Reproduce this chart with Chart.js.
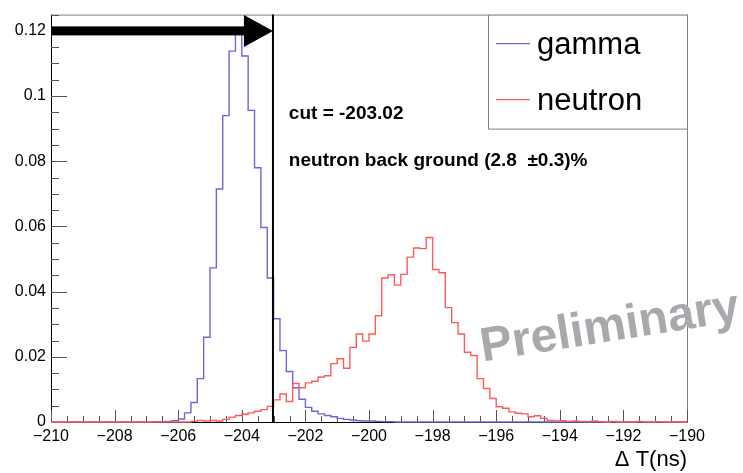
<!DOCTYPE html>
<html>
<head>
<meta charset="utf-8">
<title>Delta T gamma / neutron</title>
<script src="https://cdn.jsdelivr.net/npm/chart.js"></script>
<style>
  html, body { margin: 0; padding: 0; background: #fff; }
  canvas { display: block; }
</style>
</head>
<body>
<canvas id="dtChart" width="743" height="473"></canvas>
<script>
// binning of the Delta T histograms (ns)
const xMin = -210, xMax = -190, binWidth = 0.2;
const yMax = 0.125;
const xLabelStep = 2, yLabelStep = 0.02;
const cutValue = -203.02;

// 100 bins each
const gammaCounts = [
  0, 0, 0, 0, 0, 0, 0, 0, 0, 0,
  0, 0, 0, 0, 0, 0, 0.0001, 0.0001, 0.0002, 0.0004,
  0.0009, 0.0028, 0.006, 0.0133, 0.026, 0.0473, 0.0715, 0.094, 0.1138, 0.121,
  0.1123, 0.0956, 0.078, 0.0597, 0.0442, 0.0317, 0.0219, 0.0155, 0.0105, 0.007,
  0.0045, 0.0033, 0.0025, 0.002, 0.0016, 0.0011, 0.0008, 0.0006, 0.0004, 0.0003,
  0.0003, 0.0002, 0.0001, 0.0001, 0, 0, 0, 0, 0, 0,
  0, 0, 0, 0, 0, 0, 0, 0, 0, 0,
  0, 0, 0, 0, 0, 0, 0, 0, 0, 0,
  0, 0, 0, 0, 0, 0, 0, 0, 0, 0,
  0, 0, 0, 0, 0, 0, 0, 0, 0, 0
];
const neutronCounts = [
  0, 0, 0, 0, 0, 0, 0, 0, 0, 0,
  0, 0, 0, 0, 0, 0, 0, 0, 0, 0,
  0, 0, 0.0002, 0.0005, 0.0003, 0.0005, 0.0003, 0.0008, 0.0015, 0.002,
  0.0024, 0.0028, 0.0033, 0.0038, 0.0048, 0.0068, 0.0086, 0.0063, 0.0118, 0.0105,
  0.012, 0.0125, 0.0138, 0.0142, 0.0179, 0.0194, 0.0165, 0.0229, 0.027, 0.0248,
  0.027, 0.0326, 0.0442, 0.0452, 0.042, 0.0453, 0.0506, 0.0534, 0.0532, 0.0566,
  0.0468, 0.0458, 0.0351, 0.0305, 0.027, 0.0214, 0.0204, 0.0133, 0.0103, 0.0072,
  0.0047, 0.0042, 0.0031, 0.0027, 0.0025, 0.0016, 0.0019, 0.0011, 0.0005, 0.0003,
  0.0004, 0.0002, 0.0003, 0.0002, 0.0001, 0.0003, 0.0001, 0, 0.0002, 0,
  0, 0, 0.0002, 0, 0, 0.0001, 0, 0, 0, 0
];

const seriesNames = ['gamma', 'neutron'];
const seriesColors = ['#6a6ad2', '#ff5a5a'];
const cutText = 'cut = -203.02';
const bgText = 'neutron back ground (2.8  \u00b10.3)%';
const watermark = 'Preliminary';

// step points at the bin low edges, closed at the upper edge
function histPoints(counts) {
  const pts = counts.map((v, i) => ({ x: xMin + i * binWidth, y: v }));
  pts.push({ x: xMax, y: counts[counts.length - 1] });
  return pts;
}

const FONT = "'Liberation Sans', Arial, sans-serif";

const rootStyle = {
  id: 'rootStyle',
  beforeDatasetsDraw(chart) {
    const { ctx, chartArea: a, scales: { x, y } } = chart;
    ctx.save();
    ctx.lineWidth = 1;
    ctx.strokeStyle = '#808080';
    ctx.strokeRect(a.left + 0.5, a.top + 0.5, a.right - a.left, a.bottom - a.top);
    ctx.strokeStyle = '#000';
    ctx.beginPath();
    ctx.moveTo(a.left + 0.5, a.top);
    ctx.lineTo(a.left + 0.5, a.bottom + 0.5);
    ctx.lineTo(a.right, a.bottom + 0.5);
    ctx.stroke();
    // ticks pointing into the frame
    ctx.strokeStyle = '#555';
    ctx.beginPath();
    x.ticks.forEach(t => {
      const px = Math.round(x.getPixelForValue(t.value)) + 0.5;
      const len = t.label ? 12 : 6;
      ctx.moveTo(px, a.bottom);
      ctx.lineTo(px, a.bottom - len);
    });
    y.ticks.forEach(t => {
      const py = Math.round(y.getPixelForValue(t.value)) + 0.5;
      const len = t.label ? 16 : 8;
      ctx.moveTo(a.left, py);
      ctx.lineTo(a.left + len, py);
    });
    ctx.stroke();
    ctx.restore();
  },
  afterDatasetsDraw(chart) {
    const { ctx, chartArea: a, scales: { x, y } } = chart;
    const cx = x.getPixelForValue(cutValue);
    ctx.save();

    // cut line
    ctx.strokeStyle = '#000';
    ctx.lineWidth = 2;
    ctx.beginPath();
    ctx.moveTo(cx, y.getPixelForValue(0));
    ctx.lineTo(cx, y.getPixelForValue(yMax));
    ctx.stroke();

    // arrow towards the cut
    const ay = y.getPixelForValue(0.12);
    const headLen = 29, headHalf = 16, shaft = 9;
    ctx.fillStyle = '#000';
    ctx.fillRect(a.left, ay - shaft / 2, cx - headLen - a.left + 1, shaft);
    ctx.beginPath();
    ctx.moveTo(cx, ay);
    ctx.lineTo(cx - headLen, ay - headHalf);
    ctx.lineTo(cx - headLen, ay + headHalf);
    ctx.closePath();
    ctx.fill();

    // text
    ctx.fillStyle = '#000';
    ctx.textAlign = 'left';
    ctx.textBaseline = 'alphabetic';
    ctx.font = 'bold 19px ' + FONT;
    ctx.fillText(cutText, x.getPixelForValue(-202.52), y.getPixelForValue(0.0931));
    ctx.fillText(bgText, x.getPixelForValue(-202.52), y.getPixelForValue(0.0785));

    // legend
    const lw = 199, lh = 114;
    const lx = a.right - lw, ly = a.top;
    ctx.fillStyle = '#fff';
    ctx.fillRect(lx, ly, lw, lh);
    ctx.strokeStyle = '#808080';
    ctx.lineWidth = 1;
    ctx.strokeRect(lx + 0.5, ly + 0.5, lw, lh);
    ctx.font = '31px ' + FONT;
    ctx.textBaseline = 'middle';
    chart.data.datasets.forEach((ds, i) => {
      const ey = ly + 29 + i * 56;
      ctx.strokeStyle = ds.borderColor;
      ctx.lineWidth = 1.4;
      ctx.beginPath();
      ctx.moveTo(lx + 8, ey);
      ctx.lineTo(lx + 42, ey);
      ctx.stroke();
      ctx.fillStyle = '#000';
      ctx.fillText(ds.label, lx + 49, ey + 2);
    });

    // watermark
    ctx.translate(x.getPixelForValue(-196.42), y.getPixelForValue(0.0186));
    ctx.rotate(-9 * Math.PI / 180);
    ctx.fillStyle = '#a9a9ad';
    ctx.font = 'bold 48px ' + FONT;
    ctx.textBaseline = 'alphabetic';
    ctx.fillText(watermark, 0, 0);
    ctx.restore();
  }
};

new Chart(document.getElementById('dtChart'), {
  type: 'line',
  data: {
    datasets: seriesNames.map((name, i) => ({
      label: name,
      data: histPoints(i === 0 ? gammaCounts : neutronCounts),
      stepped: 'before',
      borderColor: seriesColors[i],
      borderWidth: 1.4,
      pointRadius: 0,
      fill: false,
      clip: 4,
      order: i === 0 ? 2 : 1
    }))
  },
  options: {
    responsive: false,
    animation: false,
    devicePixelRatio: 1,
    layout: { padding: { top: 11, right: 56, left: 0, bottom: 0 } },
    plugins: { legend: { display: false }, tooltip: { enabled: false } },
    scales: {
      x: {
        type: 'linear', min: xMin, max: xMax,
        grid: { display: false, drawTicks: false },
        border: { display: false },
        ticks: {
          stepSize: 0.5, autoSkip: false, maxRotation: 0, minRotation: 0,
          padding: 5, color: '#000', font: { family: FONT, size: 16 },
          callback: v => {
            const r = Math.round(v * 2) / 2;
            return r % xLabelStep === 0 ? (r < 0 ? '\u2212' : '') + Math.abs(r) : '';
          }
        },
        title: {
          display: true, text: '\u0394 T(ns)', align: 'end', color: '#000',
          font: { family: FONT, size: 22 }, padding: 0
        },
        afterFit: s => { s.height = 51; }
      },
      y: {
        type: 'linear', min: 0, max: yMax,
        grid: { display: false, drawTicks: false },
        border: { display: false },
        ticks: {
          stepSize: 0.005, autoSkip: false, padding: 5, color: '#000',
          font: { family: FONT, size: 16 },
          callback: v => {
            const r = Math.round(v * 1000) / 1000;
            return Math.abs(r / yLabelStep - Math.round(r / yLabelStep)) < 1e-6 ? String(r) : '';
          }
        },
        afterFit: s => { s.width = 51; }
      }
    }
  },
  plugins: [rootStyle]
});
</script>
</body>
</html>
